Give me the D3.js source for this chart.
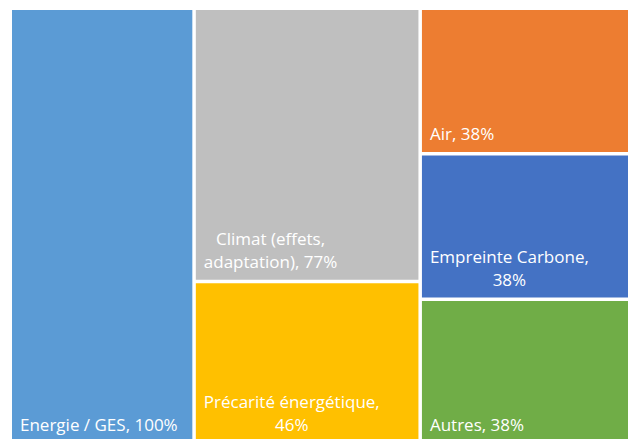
<!DOCTYPE html>
<html>
<head>
<meta charset="utf-8">
<script src="https://cdn.jsdelivr.net/npm/d3@7"></script>
<style>
  body { margin: 0; background: #fff; }
  svg text { font-family: "Open Sans", sans-serif; fill: #fff; }
</style>
</head>
<body>
<svg id="chart" width="630" height="439"></svg>
<script>
const categories = ["Energie / GES", "Climat (effets, adaptation)", "Précarité énergétique", "Air", "Empreinte Carbone", "Autres"];
const values = [100, 77, 46, 38, 38, 38];
const columns = [0, 1, 1, 2, 2, 2];
const labelLines = [
  ["Energie / GES, 100%"],
  ["Climat (effets,", "adaptation), 77%"],
  ["Précarité énergétique,", "46%"],
  ["Air, 38%"],
  ["Empreinte Carbone,", "38%"],
  ["Autres, 38%"]
];
const colors = ["#5b9bd5", "#bfbfbf", "#ffc000", "#ed7d31", "#4472c4", "#70ad47"];

var svg = d3.select("#chart");

// three columns, each one stacked vertically
var tree = { children: [0, 1, 2].map(function(c) {
  return { children: categories.map(function(name, i) {
    return { name: name, value: values[i], idx: i, col: columns[i] };
  }).filter(function(d) { return d.col == c; }) };
}) };

var root = d3.hierarchy(tree).sum(function(d) { return d.value || 0; });

// bottom row runs a little past the bottom of the picture
d3.treemap()
  .tile(d3.treemapSliceDice)
  .size([616, 433])
  .paddingInner(3.5)
  .round(false)(root);

var g = svg.append("g").attr("transform", "translate(12,10)");

var leaf = g.selectAll("g.leaf")
  .data(root.leaves())
  .enter().append("g")
  .attr("class", "leaf");

leaf.append("rect")
  .attr("x", function(d) { return d.x0; })
  .attr("y", function(d) { return d.y0; })
  .attr("width", function(d) { return d.x1 - d.x0; })
  .attr("height", function(d) { return d.y1 - d.y0; })
  .attr("fill", function(d) { return colors[d.data.idx]; });

// labels sit bottom-left, lines centred on each other
var lineH = 23;
leaf.each(function(d) {
  var lines = labelLines[d.data.idx];
  var t = d3.select(this).append("text")
    .attr("font-size", "17px")
    .attr("text-anchor", "middle");
  var spans = t.selectAll("tspan").data(lines).enter().append("tspan").text(function(s) { return s; });
  var w = d3.max(spans.nodes(), function(n) { return n.getComputedTextLength(); });
  var cx = d.x0 + 8 + w / 2;
  var lastY = d.y1 - 12;
  spans.attr("x", cx)
    .attr("y", function(s, i) { return lastY - (lines.length - 1 - i) * lineH; });
});
</script>
</body>
</html>
